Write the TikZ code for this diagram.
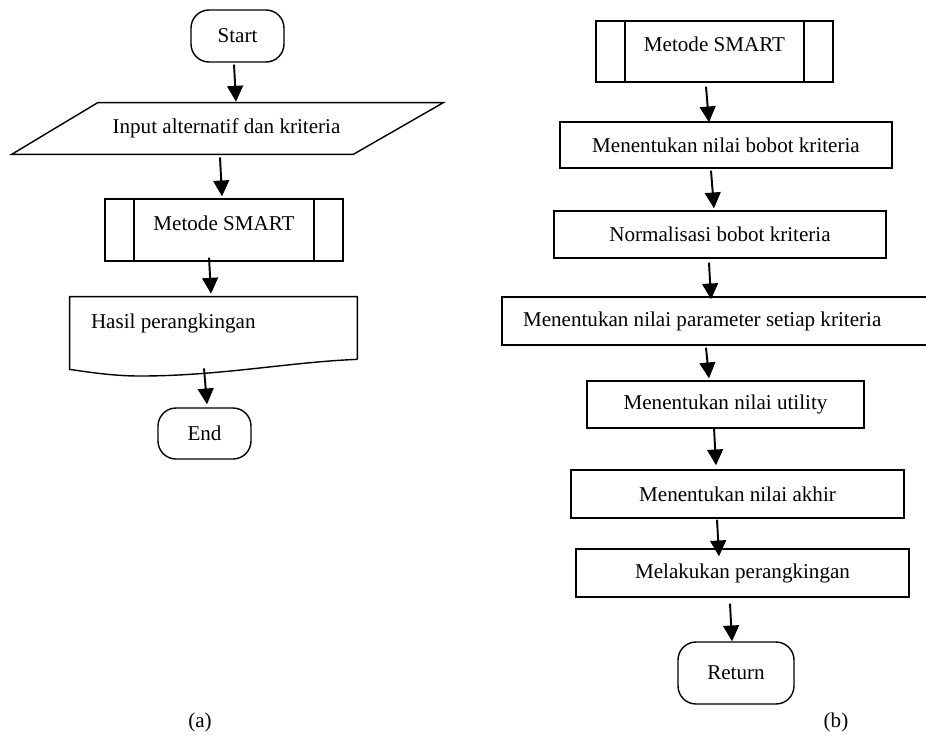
\documentclass[tikz,border=0pt]{standalone}
\usepackage{fontspec}
\setmainfont{Liberation Serif}
\usetikzlibrary{arrows.meta,calc}

\begin{document}
\begin{tikzpicture}[x = 0.02cm, y = -0.02cm,
  every node/.style = {font = \fontsize{12}{14}\selectfont},
  terminal/.style = {draw, line width = 0.8pt, rounded corners = 0.36cm, inner sep = 0pt},
  process/.style = {draw, line width = 0.8pt, inner sep = 0pt},
  predef/.style = {process, text height = 8pt, text depth = 8pt,
    path picture = {
      \draw[line width = 0.8pt] ([xshift = 0.58cm]path picture bounding box.north west) -- ([xshift = 0.58cm]path picture bounding box.south west);
      \draw[line width = 0.8pt] ([xshift = -0.58cm]path picture bounding box.north east) -- ([xshift = -0.58cm]path picture bounding box.south east);
    }},
  arr/.style = {line width = 1.1pt, -{Triangle[length = 9pt, width = 9pt]}}]
\useasboundingbox (0,0) rectangle (926,735);
\clip (0,0) rectangle (926,735);
% (a)
\node[terminal, minimum width = 1.86cm, minimum height = 1.04cm] at (237.5,36) (start) {Start};
\node[inner sep = 0pt, minimum width = 6.86cm, minimum height = 1.02cm] at (226.5,128.5) (input) {Input alternatif dan kriteria};
\draw[line width = 0.8pt] ($(input.north west)+(43,0)$) -- ($(input.north east)+(45,0)$) -- ($(input.south east)+(-45,0)$) -- ($(input.south west)+(-43,0)$) -- cycle;
\node[predef, minimum width = 4.76cm, minimum height = 1.24cm] at (224,230) (smartA) {Metode SMART};
\node[inner xsep = 0.42cm, inner ysep = 0pt, text width = 4.9cm, align = flush left, minimum height = 1.24cm, text height = 8pt, text depth = 7pt] at (213.5,328) (hasil) {Hasil perangkingan};
\draw[line width = 0.8pt] (hasil.south east) -- (hasil.north east) -- (hasil.north west) -- ($(hasil.south west)+(0,10)$)
  .. controls (100,374) and (120,376) .. (140,376) .. controls (220,376) and (290,362) .. (hasil.south east);
\node[terminal, minimum width = 1.86cm, minimum height = 1.02cm] at (204.5,433.5) (endA) {End};
\draw[arr] ($(start.south)+(-3.5,2)$) -- ($(input.north)+(9.5,-1)$);
\draw[arr] ($(input.south)+(-6.5,3)$) -- ($(smartA.north)+(-2,-2)$);
\draw[arr] ($(smartA.south)+(-15,-4)$) -- ($(hasil.north)+(-2.5,-3)$);
\draw[arr] ($(hasil.south)+(-9.5,9)$) -- ($(endA.north)+(2.5,-3)$);
\node at (200,722) (labA) {(a)};
% (b)
\node[predef, minimum width = 4.74cm, minimum height = 1.22cm] at (714.5,51.5) (smartB) {Metode SMART};
\node[process, minimum width = 6.64cm, minimum height = 0.92cm] at (726,145) (p1) {Menentukan nilai bobot kriteria};
\node[process, minimum width = 6.64cm, minimum height = 0.94cm] at (720,234.5) (p2) {Normalisasi bobot kriteria};
\node[process, inner xsep = 0.42cm, text width = 8.12cm, align = flush left, minimum height = 0.96cm] at (726,321) (p3) {Menentukan nilai parameter setiap kriteria};
\node[process, minimum width = 5.54cm, minimum height = 0.94cm] at (725.5,404.5) (p4) {Menentukan nilai utility};
\node[process, minimum width = 6.66cm, minimum height = 0.96cm] at (737.5,494) (p5) {Menentukan nilai akhir};
\node[process, minimum width = 6.66cm, minimum height = 0.96cm] at (742.5,573) (p6) {Melakukan perangkingan};
\node[terminal, minimum width = 2.32cm, minimum height = 1.24cm] at (736,673) (ret) {Return};
\draw[arr] ($(smartB.south)+(-8.5,4)$) -- ($(p1.north)+(-17,1)$);
\draw[arr] ($(p1.south)+(-15,2)$) -- ($(p2.north)+(-6,-2)$);
\draw[arr] ($(p2.south)+(-11,4)$) -- ($(p3.north)+(-15,3)$);
\draw[arr] ($(p3.south)+(-20,2)$) -- ($(p4.north)+(-16.5,-2)$);
\draw[arr] ($(p4.south)+(-11.5,-1)$) -- ($(p5.north)+(-21.5,-4)$);
\draw[arr] ($(p5.south)+(-20.5,1)$) -- ($(p6.north)+(-23.5,8)$);
\draw[arr] ($(p6.south)+(-12.5,6)$) -- ($(ret.north)+(-4,0)$);
\node at (836,722) (labB) {(b)};
\end{tikzpicture}
\end{document}
